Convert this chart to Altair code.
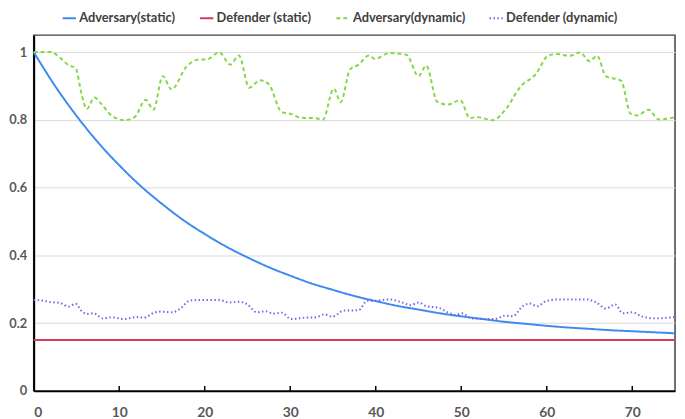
import altair as alt
import pandas as pd

series_names = ["Adversary(static)", "Defender (static)", "Adversary(dynamic)", "Defender (dynamic)"]
series_colors = ["#3d8af0", "#d43b5f", "#84d846", "#7665ea"]
series_dash = [[1, 0], [1, 0], [4, 3], [1.5, 2.5]]

adv_static_x = [0, 2.5, 5, 7.5, 10, 12.5, 15, 17.5, 20, 22.5, 25, 27.5, 30, 32.5, 35, 37.5,
                40, 42.5, 45, 47.5, 50, 52.5, 55, 57.5, 60, 62.5, 65, 67.5, 70, 72.5, 75]
adv_static_y = [1.0, 0.900, 0.812, 0.734, 0.666, 0.605, 0.552, 0.504, 0.463, 0.426, 0.394,
                0.365, 0.340, 0.317, 0.298, 0.280, 0.265, 0.251, 0.240, 0.229, 0.220, 0.212,
                0.204, 0.198, 0.192, 0.187, 0.183, 0.179, 0.176, 0.173, 0.170]

def_static_x = [0, 75]
def_static_y = [0.15, 0.15]

adv_dyn_x = [0, 2, 3.1, 4.1, 4.9, 5.6, 6.2, 7.1, 7.9, 9.1, 10.6, 11.8, 13.1, 14.0, 15.1, 16.1,
             17.9, 19.4, 20.2, 21.7, 23.0, 24.0, 25.2, 26.5, 27.5, 29.0, 30.0, 31.3, 33.0, 33.8,
             35.1, 35.9, 37.0, 38.0, 39.2, 39.9, 41.6, 43.6, 45.0, 45.9, 47.2, 48.4, 49.9, 51.0,
             51.8, 53.7, 55.1, 57.0, 58.7, 60.2, 61.2, 62.7, 63.9, 65.0, 65.9, 66.9, 68.7, 69.8,
             70.6, 71.9, 73.1, 75]
adv_dyn_y = [1.0, 1.0, 0.983, 0.961, 0.953, 0.876, 0.832, 0.866, 0.847, 0.813, 0.799, 0.808,
             0.859, 0.830, 0.929, 0.890, 0.958, 0.978, 0.978, 0.999, 0.963, 0.990, 0.895, 0.917,
             0.905, 0.823, 0.818, 0.806, 0.805, 0.800, 0.892, 0.852, 0.949, 0.963, 0.990, 0.980,
             0.997, 0.992, 0.929, 0.960, 0.853, 0.845, 0.858, 0.805, 0.808, 0.799, 0.828, 0.900,
             0.934, 0.990, 0.994, 0.989, 0.999, 0.973, 0.989, 0.929, 0.915, 0.818, 0.813, 0.830,
             0.801, 0.808]

def_dyn_x = [0, 1, 2, 3, 4.1, 4.9, 5.6, 6.2, 7.0, 8.1, 9.1, 10.6, 12.0, 12.9, 14.1, 14.8, 16.2,
             17.1, 18.3, 19.4, 21.7, 22.9, 24.0, 25.0, 26.1, 27.1, 28.0, 29.0, 30.1, 31.7, 33.0,
             34.0, 34.9, 36.3, 38.0, 39.0, 39.9, 41.6, 43.2, 44.1, 45.0, 45.9, 47.4, 48.4, 49.3,
             50.1, 51.2, 53.9, 55.1, 56.0, 57.2, 58.0, 58.9, 60.0, 61.6, 64.6, 65.8, 66.9, 68.0,
             68.9, 70.0, 71.1, 72.7, 74.6, 75]
def_dyn_y = [0.268, 0.267, 0.262, 0.260, 0.249, 0.257, 0.236, 0.227, 0.229, 0.214, 0.217, 0.212,
             0.218, 0.216, 0.231, 0.234, 0.232, 0.242, 0.267, 0.268, 0.268, 0.261, 0.263, 0.255,
             0.232, 0.235, 0.228, 0.231, 0.212, 0.216, 0.217, 0.226, 0.219, 0.237, 0.238, 0.266,
             0.266, 0.270, 0.260, 0.253, 0.261, 0.250, 0.245, 0.232, 0.224, 0.229, 0.214, 0.212,
             0.222, 0.220, 0.250, 0.258, 0.250, 0.266, 0.270, 0.270, 0.261, 0.243, 0.255, 0.229,
             0.232, 0.220, 0.214, 0.217, 0.218]

x_ticks = [0, 10, 20, 30, 40, 50, 60, 70]
y_ticks = [0, 0.2, 0.4, 0.6, 0.8, 1]

frames = []
for name, xs, ys in [(series_names[0], adv_static_x, adv_static_y),
                     (series_names[1], def_static_x, def_static_y),
                     (series_names[2], adv_dyn_x, adv_dyn_y),
                     (series_names[3], def_dyn_x, def_dyn_y)]:
    frames.append(pd.DataFrame({"x": xs, "y": ys, "series": name}))
df = pd.concat(frames, ignore_index=True)

FONT = "Lato"

xscale = alt.Scale(domain=[0, 75], nice=False, zero=False)
yscale = alt.Scale(domain=[0, 1.05], nice=False)

lines = alt.Chart(df).mark_line(strokeWidth=2, interpolate="monotone").encode(
    x=alt.X("x:Q", scale=xscale,
            axis=alt.Axis(values=x_ticks, title=None, grid=False, ticks=False,
                          domainColor="#000000", domainWidth=2, labelPadding=15,
                          labelFont=FONT, labelFontSize=14, labelFontWeight="bold",
                          labelColor="#595959")),
    y=alt.Y("y:Q", scale=yscale,
            axis=alt.Axis(values=y_ticks, title=None, labelExpr="datum.value + ''",
                          ticks=False, gridColor="#d9d9d9", gridWidth=1,
                          domainColor="#000000", domainWidth=2, labelPadding=7,
                          labelFont=FONT, labelFontSize=13, labelFontWeight="bold",
                          labelColor="#595959")),
    color=alt.Color("series:N", sort=series_names,
                    scale=alt.Scale(domain=series_names, range=series_colors),
                    legend=alt.Legend(title=None, orient="none", direction="horizontal",
                                      legendX=28, legendY=-25,
                                      symbolType="stroke", symbolStrokeWidth=2,
                                      symbolSize=180, columnPadding=20,
                                      labelFont=FONT, labelFontSize=13,
                                      labelFontWeight="bold", labelColor="#404040",
                                      labelOffset=2)),
    strokeDash=alt.StrokeDash("series:N", sort=series_names,
                              scale=alt.Scale(domain=series_names, range=series_dash),
                              legend=None),
    order=alt.Order("x:Q"),
)

tick_df = pd.DataFrame({"x": x_ticks[1:]})
ticks = alt.Chart(tick_df).mark_rule(color="#000000", strokeWidth=1.5).encode(
    x=alt.X("x:Q", scale=xscale),
    y=alt.value(355),
    y2=alt.value(360),
)

chart = alt.layer(lines, ticks).properties(
    width=649, height=360,
    autosize=alt.AutoSizeParams(type="none"),
    padding={"left": 26, "top": 25, "right": 2, "bottom": 26},
).configure_view(stroke="#404040", strokeWidth=1.5).configure_legend(
    symbolStrokeWidth=2
)

chart.save("out.html", embed_options={"renderer": "svg", "actions": False})
